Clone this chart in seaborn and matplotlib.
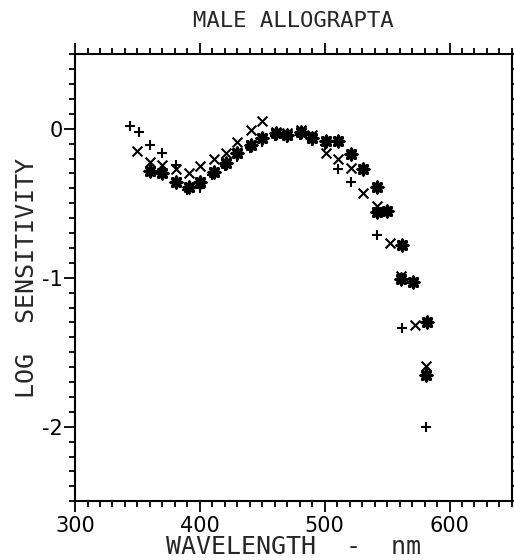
import seaborn as sns
import pandas as pd
import matplotlib.pyplot as plt
from matplotlib.ticker import MultipleLocator

# wavelength (nm) and log sensitivity, one list per marker
plus_wl = [344, 351, 360, 370, 381, 390, 400, 410, 420, 430, 440, 450, 460,
           470, 480, 490, 500, 511, 521, 542, 562, 581]
plus_val = [0.02, -0.02, -0.11, -0.16, -0.24, -0.41, -0.40, -0.31, -0.25, -0.19,
            -0.13, -0.09, -0.05, -0.06, -0.04, -0.08, -0.11, -0.27, -0.36, -0.71,
            -1.34, -2.00]

cross_wl = [350, 360, 370, 381, 391, 400, 411, 421, 430, 441, 450, 461, 470,
            481, 490, 501, 511, 521, 531, 542, 552, 561, 572, 581]
cross_val = [-0.15, -0.22, -0.24, -0.27, -0.30, -0.25, -0.20, -0.16, -0.09, -0.01,
             0.05, -0.02, -0.03, -0.01, -0.04, -0.16, -0.20, -0.26, -0.43, -0.52,
             -0.77, -0.99, -1.32, -1.59]

star_wl = [360, 370, 381, 391, 400, 411, 421, 430, 441, 450, 461, 470, 481, 490,
           501, 511, 521, 531, 542, 542, 550, 561, 562, 571, 582, 581]
star_val = [-0.28, -0.30, -0.36, -0.39, -0.36, -0.29, -0.23, -0.16, -0.11, -0.06,
            -0.03, -0.04, -0.02, -0.06, -0.08, -0.08, -0.17, -0.27, -0.39, -0.56,
            -0.55, -1.01, -0.78, -1.03, -1.30, -1.65]

y_ticks = [-2, -1, 0]
y_ticklabels = ['-2', '-1', '0']

plus_df = pd.DataFrame({'wavelength': plus_wl, 'sens': plus_val})
cross_df = pd.DataFrame({'wavelength': cross_wl, 'sens': cross_val})
star_df = pd.DataFrame({'wavelength': star_wl, 'sens': star_val})

sns.set_style('ticks')
plt.rcParams['font.family'] = ['DejaVu Sans']

fig = plt.figure(figsize=(5.14, 5.60), dpi=100)
ax = fig.add_axes([0.146, 0.105, 0.850, 0.798])

sns.scatterplot(data=plus_df, x='wavelength', y='sens', marker='+', s=50,
                color='black', linewidth=1.5, ax=ax)
sns.scatterplot(data=cross_df, x='wavelength', y='sens', marker='x', s=50,
                color='black', linewidth=1.5, ax=ax)
sns.scatterplot(data=star_df, x='wavelength', y='sens', marker=(8, 2, 0), s=60,
                color='black', linewidth=2.4, ax=ax)

ax.set_xlim(300, 650)
ax.set_ylim(-2.5, 0.5)
ax.xaxis.set_major_locator(MultipleLocator(100))
ax.xaxis.set_minor_locator(MultipleLocator(10))
ax.set_yticks(y_ticks, y_ticklabels)
ax.yaxis.set_minor_locator(MultipleLocator(0.1))
ax.tick_params(which='both', direction='out', top=True, right=True,
               width=1.3, colors='black')
ax.tick_params(which='major', length=8, labelsize=15, pad=3)
ax.tick_params(which='minor', length=4)
ax.tick_params(axis='y', which='major', pad=1)
ax.tick_params(labeltop=False, labelright=False)
for side in ax.spines.values():
    side.set_linewidth(1.5)
    side.set_color('black')

ax.set_title('MALE ALLOGRAPTA', family='DejaVu Sans Mono', fontsize=16, pad=20)
ax.set_xlabel('WAVELENGTH  -  nm', family='DejaVu Sans Mono', fontsize=18,
              labelpad=-1)
ax.set_ylabel('LOG  SENSITIVITY', family='DejaVu Sans Mono', fontsize=18,
              labelpad=2)

fig.savefig('out.png', dpi=100)
